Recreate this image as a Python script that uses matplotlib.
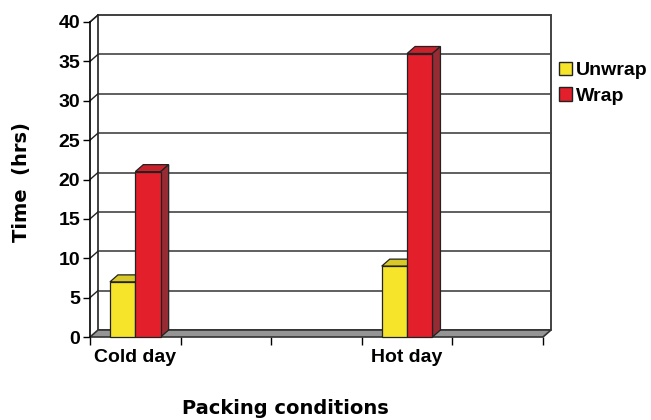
import numpy as np
import matplotlib.pyplot as plt
from matplotlib.patches import Polygon, Rectangle, Patch

categories = ["Cold day", "", "", "Hot day", ""]
unwrap = [7, None, None, 9, None]
wrap = [21, None, None, 36, None]
yticks = [0, 5, 10, 15, 20, 25, 30, 35, 40]

yellow = "#f6e42a"
yellow_top = "#d8c828"
red = "#e31f2b"
red_top = "#c8232d"
red_side = "#962b33"
floor_col = "#959595"

fig = plt.figure(figsize=(6.51, 4.20), dpi=100)
W, H = 651, 420
ax = fig.add_axes([90 / W, (H - 337) / H, 453 / W, 315 / H])
ncat = len(categories)
ymax = 40
ax.set_xlim(0, ncat)
ax.set_ylim(0, ymax)

# depth of the 3d box in data units (8 px right, 7 px up)
dx = 8 / (453 / ncat)
dy = 7 / (315 / ymax)

# back wall + gridlines
ax.add_patch(Rectangle((dx, dy), ncat, ymax, facecolor="white", edgecolor="#222222",
                       lw=1.2, clip_on=False, zorder=0))
for v in yticks[1:]:
    ax.plot([dx, ncat + dx], [v + dy, v + dy], color="#444444", lw=1.2,
            clip_on=False, zorder=1)
    ax.plot([0, dx], [v, v + dy], color="#222222", lw=1.0, clip_on=False, zorder=1)
ax.plot([0, dx], [ymax, ymax + dy], color="#222222", lw=1.0, clip_on=False, zorder=1)

# floor
ax.add_patch(Polygon([(0, 0), (ncat, 0), (ncat + dx, dy), (dx, dy)], closed=True,
                     facecolor=floor_col, edgecolor="#333333", lw=1.2,
                     clip_on=False, zorder=2))

# bars
bw = 0.28
for i in range(ncat):
    for val, off, fc, tc in [(unwrap[i], -bw, yellow, yellow_top), (wrap[i], 0, red, red_top)]:
        if val is None:
            continue
        x0 = i + 0.5 + off
        ax.bar(x0, val, width=bw, align="edge", color=fc, edgecolor="#222222",
               lw=0.9, zorder=4, clip_on=False)
        ax.add_patch(Polygon([(x0, val), (x0 + bw, val), (x0 + bw + dx, val + dy),
                              (x0 + dx, val + dy)], closed=True, facecolor=tc,
                             edgecolor="#222222", lw=0.9, zorder=3, clip_on=False))
        ax.add_patch(Polygon([(x0 + bw, 0), (x0 + bw + dx, dy), (x0 + bw + dx, val + dy),
                              (x0 + bw, val)], closed=True, facecolor=red_side,
                             edgecolor="#222222", lw=0.9, zorder=3, clip_on=False))

for s in ["top", "right", "bottom"]:
    ax.spines[s].set_visible(False)
ax.spines["left"].set_linewidth(1.2)
ax.spines["left"].set_zorder(5)

ax.set_yticks(yticks)
ax.set_yticklabels([str(v) for v in yticks], fontsize=14, fontweight="bold",
                   family="Liberation Sans")
ax.tick_params(axis="y", length=5, width=1, pad=2)
ax.set_xticks(np.arange(ncat + 1))
ax.set_xticklabels([])
ax.tick_params(axis="x", which="major", length=6, width=1)
ax.set_xticks(np.arange(ncat) + 0.5, minor=True)
ax.set_xticklabels(categories, minor=True, fontsize=14, fontweight="bold",
                   family="Liberation Sans")
ax.tick_params(axis="x", which="minor", length=0, pad=9)

fig.text(22 / W, 1 - 182 / H, "Time  (hrs)", rotation=90, ha="center", va="center",
         fontsize=14, fontweight="bold", family="DejaVu Sans")
fig.text(285 / W, 1 - 408 / H, "Packing conditions", ha="center", va="center",
         fontsize=14, fontweight="bold", family="DejaVu Sans")

handles = [Patch(facecolor=yellow, edgecolor="#222222", label="Unwrap"),
           Patch(facecolor=red, edgecolor="#222222", label="Wrap")]
fig.legend(handles=handles, loc="upper left", bbox_to_anchor=(551 / W, 1 - 54 / H),
           frameon=False, handlelength=0.7, handleheight=0.7, handletextpad=0.2,
           labelspacing=0.4, borderaxespad=0,
           prop={"family": "Liberation Sans", "weight": "bold", "size": 14})

fig.savefig("out.png", dpi=100)
